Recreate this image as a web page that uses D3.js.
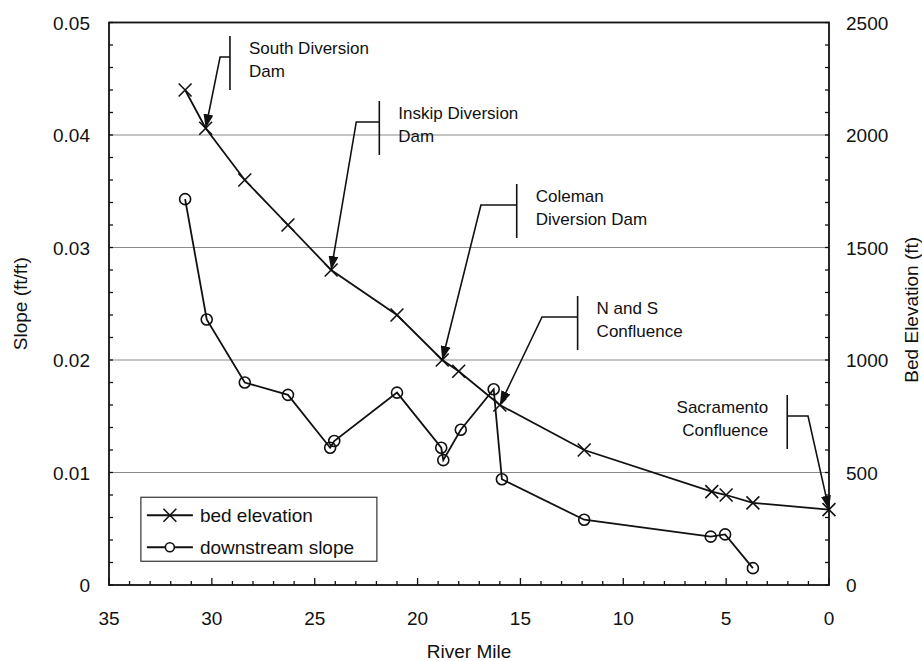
<!DOCTYPE html>
<html>
<head>
<meta charset="utf-8">
<script src="https://d3js.org/d3.v7.min.js"></script>
<style>
    body { margin: 0; background: #fff; }
    text { font-family: "Liberation Sans", Arial, sans-serif; fill: #111; }
</style>
</head>
<body>
<div id="chart"></div>
<script>
// bed elevation (right axis)
var bedMiles = [31.3, 30.3, 28.4, 26.3, 24.2, 21.0, 18.8, 18.0, 16.0, 11.9, 5.7, 5.0, 3.7, 0];
var bedElev = [2200, 2030, 1800, 1600, 1400, 1200, 1000, 950, 800, 600, 415, 400, 365, 335];

// downstream slope (left axis)
var slopeMiles = [31.3, 30.25, 28.4, 26.3, 24.25, 24.05, 21.0, 18.85, 18.75, 17.9, 16.3, 15.9, 11.9, 5.75, 5.05, 3.7];
var slopeVals = [0.0343, 0.0236, 0.0180, 0.0169, 0.0122, 0.0128, 0.0171, 0.0122, 0.0111, 0.0138, 0.0174, 0.0094, 0.0058, 0.0043, 0.0045, 0.0015];

var xTicks = [35, 30, 25, 20, 15, 10, 5, 0];
var slopeTicks = [0, 0.01, 0.02, 0.03, 0.04, 0.05];
var elevTicks = [0, 500, 1000, 1500, 2000, 2500];

var seriesNames = ["bed elevation", "downstream slope"];

// labels of the dams / confluences, each pointing at a bed elevation point
var annoLines = [
    ["South Diversion", "Dam"],
    ["Inskip Diversion", "Dam"],
    ["Coleman", "Diversion Dam"],
    ["N and S", "Confluence"],
    ["Sacramento", "Confluence"]
];
var annoTarget = [1, 4, 6, 8, 13];

(function () {
    var W = 922, H = 661;
    var margin = {top: 22.5, right: 93, bottom: 76, left: 109};
    var width = W - margin.left - margin.right;
    var height = H - margin.top - margin.bottom;

    var svg = d3.select("#chart")
        .append("svg")
        .attr("width", W)
        .attr("height", H)
        .style("display", "block");

    var g = svg.append("g")
        .attr("transform", "translate(" + margin.left + "," + margin.top + ")");

    var x = d3.scaleLinear().domain([35, 0]).range([0, width]);
    var yS = d3.scaleLinear().domain([0, 0.05]).range([height, 0]);
    var yE = d3.scaleLinear().domain([0, 2500]).range([height, 0]);

    var defs = svg.append("defs");
    defs.append("marker")
        .attr("id", "arrow")
        .attr("viewBox", "0 0 14 10")
        .attr("refX", 14)
        .attr("refY", 5)
        .attr("markerWidth", 14)
        .attr("markerHeight", 10)
        .attr("markerUnits", "userSpaceOnUse")
        .attr("orient", "auto")
        .append("path")
        .attr("d", "M0,0L14,5L0,10Z")
        .attr("fill", "#111");

    // gridlines
    g.selectAll(".grid")
        .data(slopeTicks.filter(function (d) { return d > 0 && d < 0.05; }))
        .enter().append("line")
        .attr("class", "grid")
        .attr("x1", 0).attr("x2", width)
        .attr("y1", function (d) { return yS(d); })
        .attr("y2", function (d) { return yS(d); })
        .attr("stroke", "#8a8a8a")
        .attr("stroke-width", 1.2);

    // minor ticks, all inward
    var minorX = d3.range(0, 36, 1);
    var minorY = d3.range(0, 0.0501, 0.002);
    var minorE = d3.range(0, 2501, 100);

    g.selectAll(".mx").data(minorX).enter().append("line")
        .attr("x1", function (d) { return x(d); })
        .attr("x2", function (d) { return x(d); })
        .attr("y1", height)
        .attr("y2", function (d) { return height - (d % 5 === 0 ? 7 : 4); })
        .attr("stroke", "#111").attr("stroke-width", 1.3);

    g.selectAll(".my").data(minorY).enter().append("line")
        .attr("x1", 0).attr("x2", 4)
        .attr("y1", function (d) { return yS(d); })
        .attr("y2", function (d) { return yS(d); })
        .attr("stroke", "#111").attr("stroke-width", 1.3);

    g.selectAll(".me").data(minorE).enter().append("line")
        .attr("x1", width).attr("x2", width - 4)
        .attr("y1", function (d) { return yE(d); })
        .attr("y2", function (d) { return yE(d); })
        .attr("stroke", "#111").attr("stroke-width", 1.3);

    // frame
    g.append("rect")
        .attr("width", width).attr("height", height)
        .attr("fill", "none")
        .attr("stroke", "#111")
        .attr("stroke-width", 1.8);

    // tick labels
    g.selectAll(".xl").data(xTicks).enter().append("text")
        .attr("x", function (d) { return x(d); })
        .attr("y", height + 40)
        .attr("text-anchor", "middle")
        .attr("font-size", 19)
        .text(function (d) { return d; });

    g.selectAll(".yl").data(slopeTicks).enter().append("text")
        .attr("x", -19)
        .attr("y", function (d) { return yS(d) + 7; })
        .attr("text-anchor", "end")
        .attr("font-size", 19)
        .text(function (d) { return d === 0 ? "0" : d3.format(".2f")(d); });

    g.selectAll(".el").data(elevTicks).enter().append("text")
        .attr("x", width + 17)
        .attr("y", function (d) { return yE(d) + 7; })
        .attr("text-anchor", "start")
        .attr("font-size", 19)
        .text(function (d) { return d; });

    // axis titles
    g.append("text")
        .attr("x", width / 2)
        .attr("y", height + 73)
        .attr("text-anchor", "middle")
        .attr("font-size", 19)
        .text("River Mile");

    g.append("text")
        .attr("transform", "translate(" + (-82) + "," + (height / 2) + ") rotate(-90)")
        .attr("text-anchor", "middle")
        .attr("font-size", 19)
        .text("Slope (ft/ft)");

    g.append("text")
        .attr("transform", "translate(" + (width + 89) + "," + (height / 2 + 6) + ") rotate(-90)")
        .attr("text-anchor", "middle")
        .attr("font-size", 19)
        .text("Bed Elevation (ft)");

    // series
    var bed = bedMiles.map(function (m, i) { return {m: m, v: bedElev[i]}; });
    var slope = slopeMiles.map(function (m, i) { return {m: m, v: slopeVals[i]}; });

    var bedLine = d3.line()
        .x(function (d) { return x(d.m); })
        .y(function (d) { return yE(d.v); });
    var slopeLine = d3.line()
        .x(function (d) { return x(d.m); })
        .y(function (d) { return yS(d.v); });

    g.append("path").datum(slope)
        .attr("d", slopeLine)
        .attr("fill", "none").attr("stroke", "#111").attr("stroke-width", 1.8);

    g.append("path").datum(bed)
        .attr("d", bedLine)
        .attr("fill", "none").attr("stroke", "#111").attr("stroke-width", 1.8);

    var cross = d3.symbol().type(d3.symbolX).size(110);

    g.selectAll(".bedpt").data(bed).enter().append("path")
        .attr("class", "bedpt")
        .attr("transform", function (d) { return "translate(" + x(d.m) + "," + yE(d.v) + ")"; })
        .attr("d", cross)
        .attr("fill", "none").attr("stroke", "#111").attr("stroke-width", 1.6);

    g.selectAll(".slopept").data(slope).enter().append("circle")
        .attr("class", "slopept")
        .attr("cx", function (d) { return x(d.m); })
        .attr("cy", function (d) { return yS(d.v); })
        .attr("r", 5.5)
        .attr("fill", "none").attr("stroke", "#111").attr("stroke-width", 1.6);

    // annotation layout: bar mile, knee elevation, knee mile, text side
    var annoLayout = [
        {bar: 29.12, knee: 2347, kneeM: 29.6, side: 1},
        {bar: 21.86, knee: 2058, kneeM: 22.98, side: 1},
        {bar: 15.18, knee: 1689, kneeM: 16.92, side: 1},
        {bar: 12.22, knee: 1191, kneeM: 13.95, side: 1},
        {bar: 2.03, knee: 751, kneeM: 1.02, side: -1}
    ];

    annoLines.forEach(function (lines, i) {
        var L = annoLayout[i];
        var t = bed[annoTarget[i]];
        var bx = x(L.bar), ky = yE(L.knee), kx = x(L.kneeM);
        var a = g.append("g");

        a.append("line")
            .attr("x1", bx).attr("x2", bx)
            .attr("y1", ky - 21).attr("y2", ky + 33)
            .attr("stroke", "#111").attr("stroke-width", 1.6);

        a.append("path")
            .attr("d", "M" + bx + "," + ky + "L" + kx + "," + ky + "L" + x(t.m) + "," + yE(t.v))
            .attr("fill", "none")
            .attr("stroke", "#111").attr("stroke-width", 1.6)
            .attr("marker-end", "url(#arrow)");

        a.selectAll("text").data(lines).enter().append("text")
            .attr("x", bx + L.side * 19)
            .attr("y", function (d, j) { return ky - 3 + j * 23; })
            .attr("text-anchor", L.side > 0 ? "start" : "end")
            .attr("font-size", 17)
            .text(function (d) { return d; });
    });

    // legend
    var lg = g.append("g").attr("transform", "translate(" + (x(33.45)) + "," + (yS(0.0078)) + ")");
    lg.append("rect")
        .attr("width", 236).attr("height", 64)
        .attr("fill", "#fff")
        .attr("stroke", "#333").attr("stroke-width", 1.2);

    seriesNames.forEach(function (name, i) {
        var ly = 18 + i * 32;
        lg.append("line")
            .attr("x1", 6).attr("x2", 52)
            .attr("y1", ly).attr("y2", ly)
            .attr("stroke", "#111").attr("stroke-width", 1.8);
        if (i === 0) {
            lg.append("path")
                .attr("transform", "translate(29," + ly + ")")
                .attr("d", cross)
                .attr("fill", "none").attr("stroke", "#111").attr("stroke-width", 1.6);
        } else {
            lg.append("circle")
                .attr("cx", 29).attr("cy", ly).attr("r", 4.5)
                .attr("fill", "#fff").attr("stroke", "#111").attr("stroke-width", 1.6);
        }
        lg.append("text")
            .attr("x", 59)
            .attr("y", ly + 7)
            .attr("font-size", 19)
            .text(name);
    });
})();
</script>
</body>
</html>
